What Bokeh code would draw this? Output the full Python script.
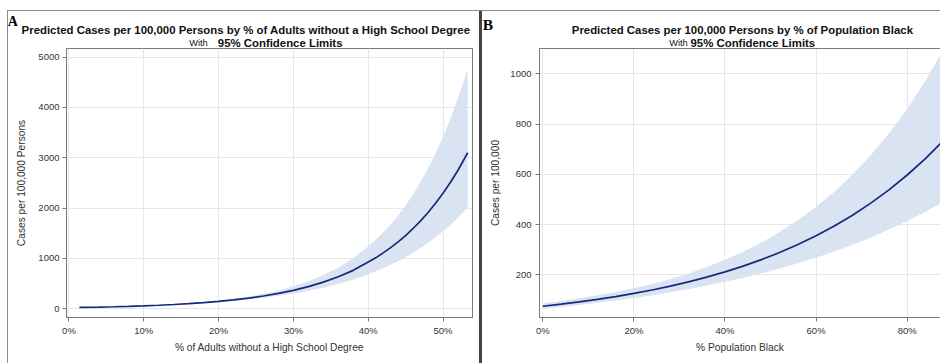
from bokeh.plotting import figure
from bokeh.layouts import row, column
from bokeh.models import (Range1d, FixedTicker, NumeralTickFormatter,
                          LinearAxis, ColumnDataSource)
from bokeh.core.properties import value
from bokeh.embed import file_html
from bokeh.resources import INLINE

# ---------------- data: panel A ----------------
a_pct = [0.014, 0.04, 0.06, 0.08, 0.10, 0.12, 0.14, 0.16, 0.18, 0.20, 0.22, 0.24,
         0.26, 0.28, 0.30, 0.32, 0.34, 0.36, 0.38, 0.40, 0.41, 0.42, 0.43, 0.44,
         0.45, 0.46, 0.47, 0.48, 0.49, 0.50, 0.51, 0.52, 0.533]
a_pred = [26.7, 33.9, 40.7, 48.9, 58.8, 70.6, 84.7, 101.7, 122.2, 146.8, 176.3, 211.8,
          254.2, 305.5, 366.8, 440.5, 529.1, 635.5, 763.6, 930, 1012, 1110, 1215, 1330,
          1455, 1595, 1745, 1912, 2095, 2295, 2512, 2752, 3100]
a_upper = [30.1, 37.4, 44.1, 52.2, 62.1, 74.2, 89.4, 108.5, 132.4, 161.8, 197.9, 242.3,
           296.4, 363.5, 445.3, 545.8, 668.8, 819.8, 1005.7, 1240, 1370, 1515, 1677, 1855,
           2052, 2272, 2516, 2786, 3084, 3413, 3780, 4183, 4760]
a_lower = [23.7, 30.8, 37.6, 45.8, 55.7, 67.2, 80.2, 95.3, 112.8, 133.2, 157.1, 185.1,
           217.9, 256.6, 302.2, 355.5, 418.5, 492.5, 580.3, 688, 744, 806, 873, 946,
           1025, 1113, 1207, 1308, 1419, 1538, 1670, 1811, 2015]
a_xticks = [0, 0.1, 0.2, 0.3, 0.4, 0.5]
a_yticks = [0, 1000, 2000, 3000, 4000, 5000]

# ---------------- data: panel B ----------------
b_pct = [0.0, 0.04, 0.08, 0.12, 0.16, 0.20, 0.24, 0.28, 0.32, 0.36, 0.40, 0.44, 0.48,
         0.52, 0.56, 0.60, 0.64, 0.68, 0.72, 0.76, 0.80, 0.84, 0.88]
b_pred = [75.0, 83.2, 92.3, 102.4, 113.6, 126.0, 139.8, 155.1, 172.0, 190.8, 211.7,
          234.8, 260.5, 289.0, 320.6, 355.6, 394.5, 437.6, 485.5, 538.5, 597.5, 662.8, 735.2]
b_upper = [87.4, 96.4, 106.7, 118.4, 131.7, 146.8, 164.0, 183.6, 205.7, 231.1, 259.8,
           292.1, 328.8, 370.5, 417.4, 470.8, 531.0, 599.1, 675.8, 763.0, 861.6, 973.0, 1098.4]
b_lower = [64.4, 71.8, 79.8, 88.6, 98.0, 108.1, 119.1, 131.1, 143.8, 157.6, 172.5,
           188.8, 206.3, 225.4, 246.2, 268.5, 293.1, 319.9, 348.6, 380.2, 414.7, 451.4, 491.8]
b_xticks = [0, 0.2, 0.4, 0.6, 0.8]
b_yticks = [200, 400, 600, 800, 1000]

# ---------------- titles ----------------
a_title = "Predicted Cases per 100,000 Persons by % of Adults without a High School Degree"
b_title = "Predicted Cases per 100,000 Persons by % of Population Black"
sub_small = "With"
sub_bold = "95% Confidence Limits"

LINE = "#16297a"
BAND = "#d9e3f1"
FRAME = "#7a7a7a"
GRID = "#e6e6e6"
TXT = "#333333"
SANS = "Liberation Sans"
TH = 48  # height of the title strip above each plot


def no_align(p):
    try:
        p.frame_align = False
    except Exception:
        pass


def style_axes(p, xlabel, ylabel, xticks, yticks, ylab_standoff, ytick_standoff):
    for ax in p.xaxis + p.yaxis:
        ax.axis_line_color = FRAME
        ax.major_tick_line_color = FRAME
        ax.major_tick_out = 4
        ax.major_tick_in = 0
        ax.minor_tick_line_color = None
        ax.major_label_text_font = SANS
        ax.major_label_text_font_size = "9.5px"
        ax.major_label_text_color = TXT
        ax.axis_label_text_font = SANS
        ax.axis_label_text_font_size = "10.2px"
        ax.axis_label_text_font_style = "normal"
        ax.axis_label_text_color = TXT
    p.xaxis.ticker = FixedTicker(ticks=xticks)
    p.yaxis.ticker = FixedTicker(ticks=yticks)
    p.xaxis.formatter = NumeralTickFormatter(format="0%")
    p.xaxis.axis_label = xlabel
    p.yaxis.axis_label = ylabel
    p.xaxis.major_label_standoff = 3
    p.xaxis.axis_label_standoff = 3
    p.yaxis.major_label_standoff = ytick_standoff
    p.yaxis.axis_label_standoff = ylab_standoff
    p.xgrid.ticker = FixedTicker(ticks=xticks)
    p.ygrid.ticker = FixedTicker(ticks=yticks)
    p.xgrid.grid_line_color = GRID
    p.ygrid.grid_line_color = GRID


def title_fig(width, title, title_cx, with_x, bold_x, letter, letter_x, letter_y, letter_size):
    t = figure(width=width, height=TH, output_backend="svg", toolbar_location=None,
               x_range=Range1d(0, width), y_range=Range1d(TH, 0),
               x_axis_type=None, y_axis_type=None,
               min_border_left=0, min_border_right=0, min_border_top=0, min_border_bottom=0,
               border_fill_color=None, background_fill_color=None, outline_line_color=None)
    no_align(t)
    t.xgrid.visible = False
    t.ygrid.visible = False
    t.text(x=[title_cx], y=[29.3], text=[title], text_font=value(SANS),
           text_font_style="bold", text_font_size="11.4px", text_align="center",
           text_baseline="alphabetic", text_color="#111111")
    t.text(x=[with_x], y=[42.0], text=[sub_small], text_font=value(SANS),
           text_font_size="9.3px", text_align="left",
           text_baseline="alphabetic", text_color="#111111")
    t.text(x=[bold_x], y=[42.0], text=[sub_bold], text_font=value(SANS),
           text_font_style="bold", text_font_size="11.4px", text_align="left",
           text_baseline="alphabetic", text_color="#111111")
    t.text(x=[letter_x], y=[letter_y], text=[letter], text_font=value("Liberation Serif"),
           text_font_style="bold", text_font_size=letter_size, text_align="left",
           text_baseline="alphabetic", text_color="#000000")
    return t


# ---------------- panel A ----------------
tA = title_fig(480, a_title, 245.5, 188.7, 217.3, "A", 7.3, 21.2, "14px")
srcA = ColumnDataSource(dict(x=a_pct, y=a_pred, lo=a_lower, hi=a_upper))
pA = figure(width=480, height=363 - TH, output_backend="svg", toolbar_location=None,
            x_range=Range1d(-0.0033, 0.5394), y_range=Range1d(-173, 5170),
            min_border_left=66, min_border_right=8, min_border_top=0, min_border_bottom=46,
            border_fill_color=None, background_fill_color="white",
            outline_line_color=FRAME)
no_align(pA)
pA.varea(x="x", y1="lo", y2="hi", source=srcA, fill_color=BAND)
pA.line(x="x", y="y", source=srcA, line_color=LINE, line_width=1.7)
style_axes(pA, "% of Adults without a High School Degree", "Cases per 100,000 Persons",
           a_xticks, a_yticks, 8, 3)

# ---------------- panel B ----------------
tB = title_fig(460, b_title, 261.9, 188.7, 210.0, "B", 2.3, 24.0, "15.5px")
srcB = ColumnDataSource(dict(x=b_pct, y=b_pred, lo=b_lower, hi=b_upper))
pB = figure(width=460, height=363 - TH, output_backend="svg", toolbar_location=None,
            x_range=Range1d(-0.0072, 0.8731), y_range=Range1d(30.3, 1101),
            min_border_left=59, min_border_right=0, min_border_top=0, min_border_bottom=46,
            border_fill_color=None, background_fill_color="white",
            outline_line_color=None)
no_align(pB)
pB.varea(x="x", y1="lo", y2="hi", source=srcB, fill_color=BAND)
pB.line(x="x", y="y", source=srcB, line_color=LINE, line_width=1.7)
style_axes(pB, "% Population Black", "Cases per 100,000", b_xticks, b_yticks, 6, 4)
top_axis = LinearAxis(ticker=FixedTicker(ticks=[]), axis_line_color=FRAME,
                      major_tick_line_color=None, minor_tick_line_color=None,
                      major_label_standoff=0, major_label_text_font_size="0px")
pB.add_layout(top_axis, "above")

colA = column(tA, pA, styles={"box-shadow": "inset 7px 10px 0 0 #ffffff, "
                                            "inset 8px 11px 0 0 #8c8c8c, "
                                            "inset -1px 0 0 0 #444444"})
colB = column(tB, pB, styles={"box-shadow": "inset 0 10px 0 0 #ffffff, "
                                            "inset 0 11px 0 0 #8c8c8c, "
                                            "inset 2px 0 0 0 #444444"})
layout = row(colA, colB)
open("out.html", "w").write(file_html(layout, INLINE))
